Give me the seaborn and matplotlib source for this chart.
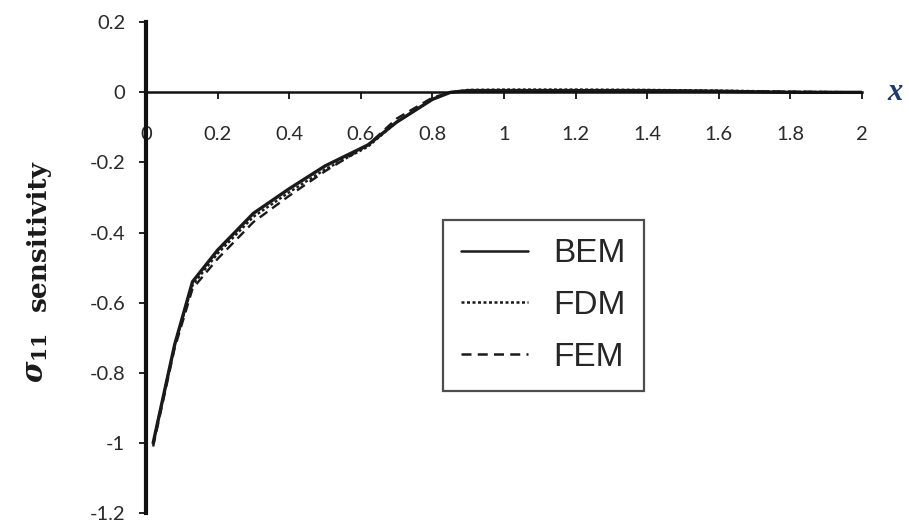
import matplotlib
matplotlib.use("Agg")
import matplotlib.pyplot as plt
import matplotlib.transforms as mtransforms
import numpy as np
import pandas as pd
import seaborn as sns

# Sensitivity of sigma_11 along x, computed with three methods
x_vals = [0.02, 0.08, 0.13, 0.2, 0.3, 0.4, 0.5, 0.62, 0.7, 0.8, 0.85, 0.9,
          1.0, 1.2, 1.4, 1.6, 1.8, 2.0]
bem = [-1.0, -0.72, -0.54, -0.45, -0.345, -0.275, -0.21, -0.15, -0.085, -0.02,
       0.0, 0.005, 0.005, 0.005, 0.005, 0.003, 0.0, 0.0]
fdm = [-1.0, -0.72, -0.55, -0.46, -0.355, -0.285, -0.22, -0.155, -0.085, -0.02,
       0.0, 0.007, 0.008, 0.008, 0.007, 0.005, 0.002, 0.0]
fem = [-1.01, -0.73, -0.56, -0.475, -0.37, -0.295, -0.225, -0.15, -0.075, -0.015,
       0.0, 0.005, 0.006, 0.006, 0.005, 0.004, 0.002, 0.0]
methods = ["BEM", "FDM", "FEM"]

x_ticks = [0, 0.2, 0.4, 0.6, 0.8, 1, 1.2, 1.4, 1.6, 1.8, 2]
x_tick_labels = ["0", "0.2", "0.4", "0.6", "0.8", "1", "1.2", "1.4", "1.6", "1.8", "2"]
y_ticks = [0.2, 0, -0.2, -0.4, -0.6, -0.8, -1, -1.2]
y_tick_labels = ["0.2", "0", "-0.2", "-0.4", "-0.6", "-0.8", "-1", "-1.2"]

df = pd.DataFrame({
    "x": x_vals * 3,
    "value": bem + fdm + fem,
    "method": sum([[m] * len(x_vals) for m in methods], []),
})

sns.set_style("white")
plt.rcParams["font.family"] = ["Lato", "DejaVu Sans"]
plt.rcParams["mathtext.fontset"] = "dejavuserif"

fig = plt.figure(figsize=(9.09, 5.29), dpi=100)
ax = fig.add_axes([0.1606, 0.030, 0.7877, 0.928])

styles = {
    "BEM": dict(linestyle="-", linewidth=2.4),
    "FDM": dict(linestyle=(0, (1.2, 1.0)), linewidth=1.7),
    "FEM": dict(linestyle=(0, (4, 2.5)), linewidth=1.7),
}
for m in methods:
    sns.lineplot(data=df[df["method"] == m], x="x", y="value", ax=ax,
                 color="#1a1a1a", label=m, **styles[m])

ax.set_xlim(0, 2)
ax.set_ylim(-1.2, 0.2)

# x axis drawn along y = 0, y axis along x = 0
for s in ["top", "right"]:
    ax.spines[s].set_visible(False)
ax.spines["bottom"].set_position(("data", 0))
ax.spines["bottom"].set_linewidth(1.8)
ax.spines["bottom"].set_color("#111111")
ax.spines["left"].set_linewidth(3.0)
ax.spines["left"].set_color("#111111")

ax.set_xticks(x_ticks)
ax.set_xticklabels(x_tick_labels)
ax.set_yticks(y_ticks)
ax.set_yticklabels(y_tick_labels)
ax.tick_params(axis="both", direction="out", length=5, width=1.4,
               color="#222222", labelsize=14.5, labelcolor="#2a2a2a")
ax.tick_params(axis="x", pad=19)
ax.tick_params(axis="y", pad=10)
ax.tick_params(axis="both", bottom=True, left=True)

ax.set_xlabel("")
ax.set_ylabel("")

# Vertical axis title: symbol part and word part
fig.text(38 / 909, 1 - 236 / 529, "sensitivity", rotation=90,
         ha="center", va="center", fontsize=19, fontweight="bold",
         family="DejaVu Serif", color="#1a1a1a")
fig.text(37 / 909, 1 - 358 / 529, r"$\mathbfit{\sigma}_{\mathbf{11}}$",
         rotation=90, ha="center", va="center", fontsize=21,
         color="#1a1a1a")

trans = mtransforms.blended_transform_factory(ax.transAxes, ax.transData)
ax.text(1.035, 0.0, "x", transform=trans, fontsize=22, fontweight="bold",
        fontstyle="italic", family="Liberation Serif", color="#1f3a6b",
        ha="left", va="center")

leg = ax.legend(loc="upper left", bbox_to_anchor=(0.415, 0.597),
                prop={"family": "Liberation Sans", "size": 24},
                handlelength=2.0, handletextpad=0.75, labelspacing=0.62,
                borderpad=0.55, borderaxespad=0, fancybox=False, frameon=True)
leg.get_frame().set_edgecolor("#222222")
leg.get_frame().set_linewidth(1.6)
for line in leg.get_lines():
    line.set_linewidth(1.8)

fig.savefig("out.png", dpi=100)
